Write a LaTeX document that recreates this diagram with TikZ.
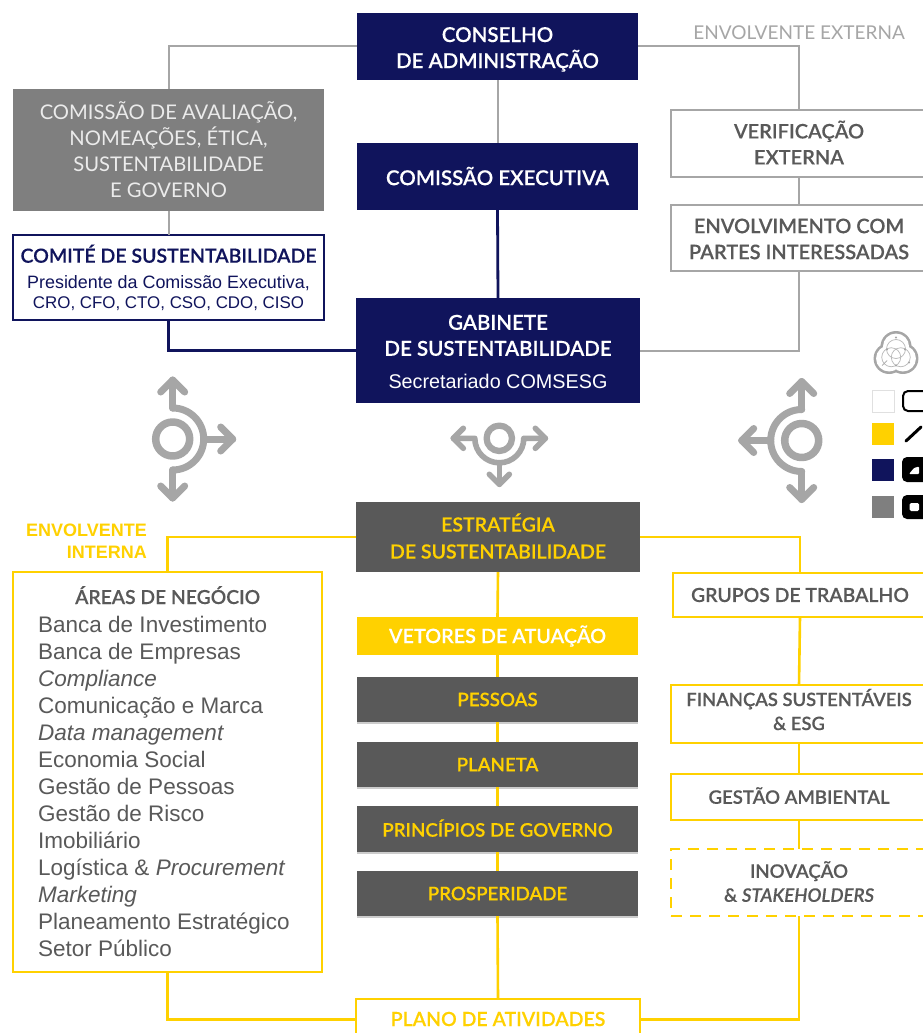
\documentclass[tikz,border=0pt]{standalone}
\usepackage{fontspec}
\setmainfont{Liberation Sans}
\newfontfamily\headf[BoldFont={Lato Semibold},BoldItalicFont={Lato Semibold Italic},BoldFeatures={FakeBold=0.2},BoldItalicFeatures={FakeBold=0.2}]{Lato}
\usetikzlibrary{calc,shadows}
\definecolor{navyc}{HTML}{10145C}
\definecolor{yel}{HTML}{FFD100}
\definecolor{dgr}{HTML}{595959}
\definecolor{mgr}{HTML}{7F7F7F}
\definecolor{lgr}{HTML}{A6A6A6}
\definecolor{txg}{HTML}{595959}
\newcommand{\hd}[1]{\fontsize{#1}{#1}\selectfont\lineskiplimit=-100pt\headf\bfseries}
\newcommand{\lt}[1]{\fontsize{#1}{#1}\selectfont\lineskiplimit=-100pt\headf}
\newcommand{\bd}[1]{\fontsize{#1}{#1}\selectfont\lineskiplimit=-100pt\rmfamily\mdseries}
\newcommand{\up}[1]{\rule{0pt}{#1pt}}
\newcommand{\lo}[1]{\rule[-#1pt]{0pt}{#1pt}}
\tikzset{
  x=1pt,y=-1pt,
  bx/.style={rectangle,inner sep=0pt,outer sep=0pt,align=center,line width=1.6pt},
  navybox/.style={bx,fill=navyc,text=white},
  greybox/.style={bx,fill=mgr,text=white!92!black},
  ghost/.style={bx,draw=lgr,fill=white,text=txg},
  ybox/.style={bx,draw=yel,line width=2.5pt,fill=white,text=txg},
  dbox/.style={bx,fill=dgr,text=yel},
  sbox/.style={dbox,drop shadow={shadow xshift=0pt,shadow yshift=-2pt,opacity=.2,fill=black}},
  lgrey/.style={draw=lgr,line width=2pt},
  lnavy/.style={draw=navyc,line width=2.8pt},
  lyel/.style={draw=yel,line width=2.6pt},
  ico/.style={draw=lgr,line cap=round,line join=round,fill=none},
  swatch/.style={inner sep=0pt,outer sep=0pt,minimum width=22pt,minimum height=22pt},
  item/.style={inner sep=0pt,anchor=base west,text=txg,font={\bd{22.5}}},
}
\newcommand{\bxn}[7]{\node[#6,minimum width=#4pt-#2pt,minimum height=#5pt-#3pt] (#1) at ({(#2+#4)/2},{(#3+#5)/2}) {#7};}
\newcommand{\roundico}[3]{%
\begin{scope}[shift={(#1,#2)},xscale=#3]
 \draw[ico,line width=7.5pt] (0,0) circle[radius=17pt];
 \draw[ico,line width=7pt] (0,-59) -- (0,-31);
 \draw[ico,line width=7pt] (0,31) -- (0,59);
 \draw[ico,line width=7pt] (31,0) -- (60,0);
 \draw[ico,line width=7pt] (-12,-47) -- (0,-59) -- (12,-47);
 \draw[ico,line width=7pt] (-12,47) -- (0,59) -- (12,47);
 \draw[ico,line width=7pt] (48,-12) -- (60,0) -- (48,12);
 \draw[ico,line width=7pt] (0,-31) arc[start angle=90,end angle=-90,radius=31pt];
\end{scope}}
\begin{document}
\begin{tikzpicture}
\useasboundingbox (0,0) rectangle (923,1033);
\clip (0,0) rectangle (923,1033);
\fill[white] (0,0) rectangle (923,1033);

% nodes
\bxn{cons}{357}{13}{638}{80}{navybox,font={\hd{20.5}}}{\up{20.7}CONSELHO\\[5.5pt]DE ADMINISTRAÇÃO}
\bxn{exec}{357}{143}{638}{210}{navybox,font={\hd{20.5}}}{\raisebox{1pt}{COMISSÃO EXECUTIVA}}
\bxn{gab}{356}{298}{640}{403}{navybox,font={\hd{20.5}}}{\up{17.7}GABINETE\\[5.5pt]DE SUSTENTABILIDADE\\[12.5pt]\bd{19.8}Secretariado COMSESG}
\bxn{aval}{13}{89}{324}{211}{greybox,font={\lt{20.2}}}{COMISSÃO DE AVALIAÇÃO,\\[5.8pt]NOMEAÇÕES, ÉTICA,\\[5.8pt]SUSTENTABILIDADE\\[5.8pt]E GOVERNO}
\bxn{comite}{13}{235}{324}{320}{bx,draw=navyc,fill=white,text=navyc,font={\hd{19.5}}}{COMITÉ DE SUSTENTABILIDADE\\[6.5pt]\bd{17.9}Presidente da Comissão Executiva,\\[0pt]\bd{16.9}CRO, CFO, CTO, CSO, CDO, CISO}
\bxn{verif}{671}{110}{927}{177}{ghost,font={\hd{20}}}{VERIFICAÇÃO\\[6pt]EXTERNA\lo{2}}
\bxn{envol}{671}{205}{927}{271}{ghost,font={\hd{20}}}{\up{16.5}ENVOLVIMENTO COM\\[6pt]PARTES INTERESSADAS}
\bxn{estr}{356}{502}{640}{572}{dbox,font={\hd{19.5}}}{ESTRATÉGIA\\[7.5pt]DE SUSTENTABILIDADE\lo{2}}
\bxn{vet}{357}{617}{638}{655}{bx,fill=yel,text=white,font={\hd{19.8}}}{VETORES DE ATUAÇÃO}
\bxn{pess}{357}{677}{638}{722}{sbox,font={\hd{18.7}}}{\raisebox{-1pt}{PESSOAS}}
\bxn{plan}{357}{742}{638}{787}{sbox,font={\hd{18.7}}}{\raisebox{-1pt}{PLANETA}}
\bxn{princ}{357}{806}{638}{852}{sbox,font={\hd{18.7}}}{\raisebox{2pt}{PRINCÍPIOS DE GOVERNO}}
\bxn{prosp}{357}{871}{638}{916}{sbox,font={\hd{18.7}}}{\raisebox{-1pt}{PROSPERIDADE}}
\bxn{areas}{13}{572}{322}{972}{ybox}{}
\bxn{grup}{673}{573}{927}{617}{ybox,font={\hd{19.4}}}{\raisebox{-1pt}{GRUPOS DE TRABALHO}}
\bxn{fin}{671}{685}{927}{743}{ybox,font={\hd{18.4}}}{FINANÇAS SUSTENTÁVEIS\\[5.6pt]\& ESG\lo{9}}
\bxn{amb}{671}{774}{927}{820}{ybox,font={\hd{18.6}}}{\raisebox{3pt}{GESTÃO AMBIENTAL}}
\bxn{inov}{671}{849}{927}{916}{ybox,dash pattern=on 11pt off 8pt,font={\hd{18.6}}}{INOVAÇÃO\\[5.4pt]\& \itshape STAKEHOLDERS\lo{2}}
\bxn{ativ}{356}{999}{640}{1040}{ybox}{}
\node[inner sep=0pt,text=yel,font={\hd{19.5}}] (ativt) at (498,1019) {PLANO DE ATIVIDADES};

% area list
\node[inner sep=0pt,anchor=base west,text=txg,font={\hd{19.3}}] (t0) at (75,604) {ÁREAS DE NEGÓCIO};
\foreach \n/\yy/\tx in {
 t1/632/Banca de Investimento,
 t2/659/Banca de Empresas,
 t3/686/\itshape Compliance,
 t4/713/Comunicação e Marca,
 t5/740/\itshape Data management,
 t6/767/Economia Social,
 t7/794/Gestão de Pessoas,
 t8/821/Gestão de Risco,
 t9/848/Imobiliário,
 t10/875/{Logística \& \itshape Procurement},
 t11/902/\itshape Marketing,
 t12/929/Planeamento Estratégico,
 t13/956/Setor Público}{
 \node[item] (\n) at (38,\yy) {\tx};
}

% captions
\node[inner sep=0pt,anchor=base east,text=lgr,font={\lt{19}}] (ext) at (905,39.5) {ENVOLVENTE EXTERNA};
\node[inner sep=0pt,anchor=base east,text=yel,font={\fontsize{18}{18}\selectfont\bfseries}] (int1) at (147,536) {ENVOLVENTE};
\node[inner sep=0pt,anchor=base east,text=yel,font={\fontsize{18}{18}\selectfont\bfseries}] (int2) at (147,558) {INTERNA};

% connectors
\draw[lgrey] (cons.west) -| (aval.north);
\draw[lgrey] (cons.east) -| (verif.north);
\draw[lgrey] (cons.south) -- (exec.north);
\draw[lgrey] (aval.south) -- (comite.north);
\draw[lgrey] (verif.south) -- (envol.north);
\draw[lgrey] (envol.south) |- (gab.east);
\draw[lnavy] (exec.south) -- (gab.north);
\draw[lnavy] (comite.south) |- (gab.west);
\draw[lyel] (estr.west) -| (areas.north);
\draw[lyel] (estr.east) -| (grup.north);
\draw[lyel] (estr.south) -- (vet.north);
\draw[lyel] (vet.south) -- (pess.north);
\draw[lyel] (pess.south) -- (plan.north);
\draw[lyel] (plan.south) -- (princ.north);
\draw[lyel] (princ.south) -- (prosp.north);
\draw[lyel] (prosp.south) -- (ativ.north);
\draw[lyel] (grup.south) -- (fin.north);
\draw[lyel] (fin.south) -- (amb.north);
\draw[lyel] (amb.south) -- (inov.north);
\draw[lyel] (inov.south) |- (ativ.east);
\draw[lyel] (areas.south) |- (ativ.west);

% roundabout icons
\roundico{172.7}{439}{1}
\roundico{801.7}{440.5}{-1}
\begin{scope}[shift={(499.3,438.3)}]
 \draw[ico,line width=6.3pt] (0,0) circle[radius=12.7pt];
 \draw[ico,line width=5.6pt] (-46,0) -- (-24.5,0) arc[start angle=180,end angle=360,radius=24.5pt] -- (46,0);
 \draw[ico,line width=5.6pt] (0,24.5) -- (0,46);
 \draw[ico,line width=5.6pt] (-36,-10) -- (-46,0) -- (-36,10);
 \draw[ico,line width=5.6pt] (36,-10) -- (46,0) -- (36,10);
 \draw[ico,line width=5.6pt] (-10,36) -- (0,46) -- (10,36);
\end{scope}

% legend emblem
\begin{scope}[shift={(896,354.5)}]
 \foreach \a in {270,30,150}{\fill[lgr] (\a:8) circle[radius=15.5pt];}
 \foreach \a in {270,30,150}{\fill[white] (\a:8) circle[radius=13pt];}
 \foreach \a in {270,30,150}{\draw[lgr!80,line width=.7pt] (\a:5.5) circle[radius=9.5pt];}
 \fill[lgr] (0,-17) circle[radius=1.2pt] (-9,-5) circle[radius=1.2pt] (9,-5) circle[radius=1.2pt] (0,11) circle[radius=1.2pt] (13,8) circle[radius=1.2pt];
 \draw[lgr,line width=.7pt] (-14,11) -- (-9,6);
\end{scope}

% legend
\node[swatch,fill=white,draw=black!12,line width=.8pt] (s1) at (883,401) {};
\node[swatch,fill=yel] (s2) at (883,434) {};
\node[swatch,fill=navyc] (s3) at (883,470) {};
\node[swatch,fill=mgr] (s4) at (883,507) {};
\draw[black,line width=2pt,rounded corners=5pt] (903,391) rectangle (935,411);
\draw[black,line width=3pt,line cap=round] (906,441) -- (921,427);
\fill[black,rounded corners=5pt] (902,457) rectangle (935,482);
\fill[white,rounded corners=1pt] (909,474) -- (914,468) -- (919,466.5) -- (919,474) -- cycle;
\fill[black,rounded corners=5pt] (902,495) rectangle (935,519);
\fill[white,rounded corners=1.5pt] (909.5,503) rectangle (919,511);
\end{tikzpicture}
\end{document}
